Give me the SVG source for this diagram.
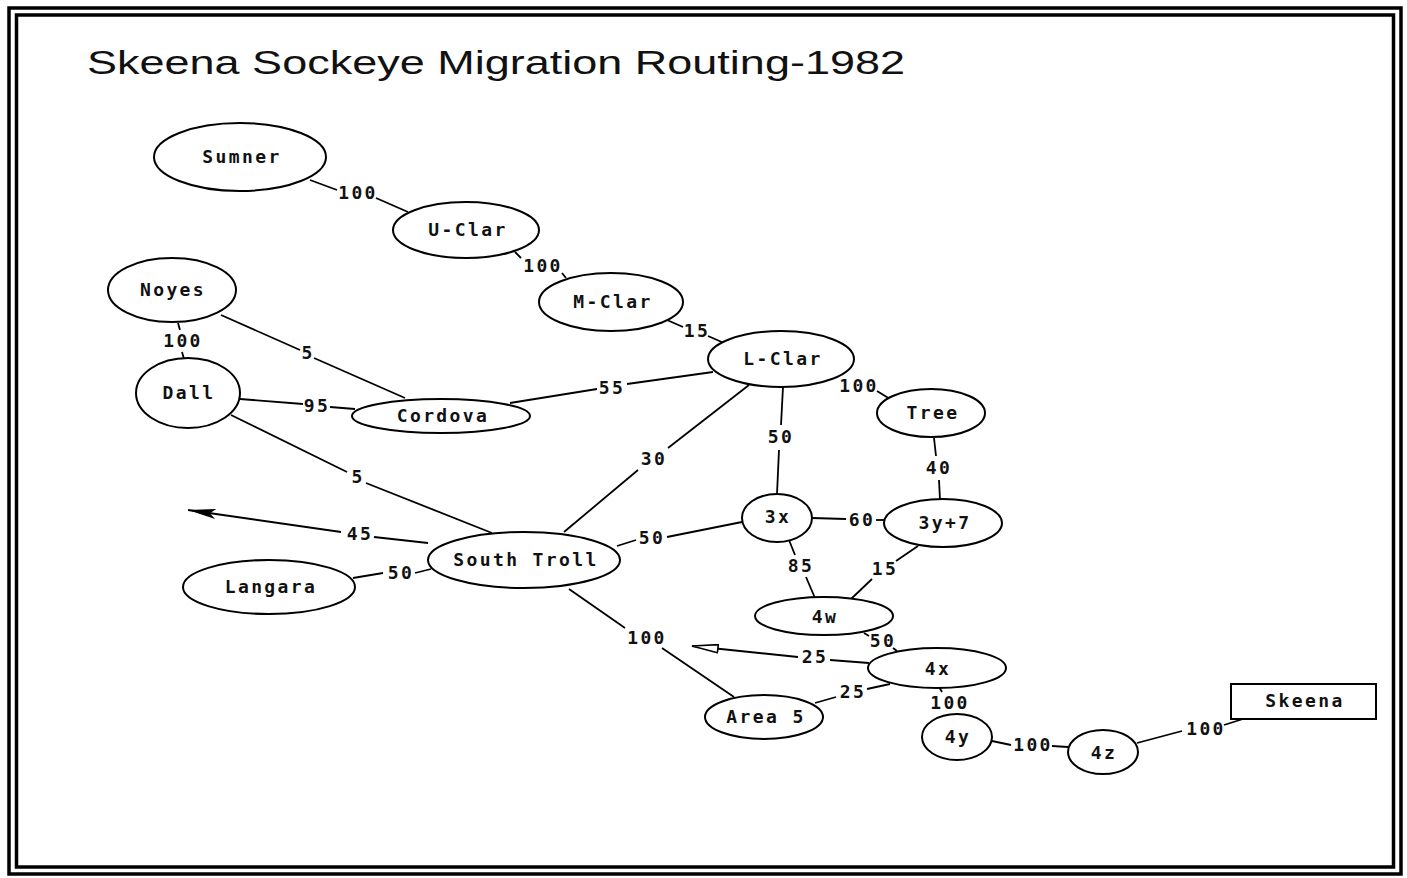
<svg xmlns="http://www.w3.org/2000/svg" width="1407" height="878" viewBox="0 0 1407 878">
<style>
.frame{fill:none;stroke:#000;stroke-width:3.5}
.nd{fill:#fff;stroke:#000;stroke-width:2}
.nl{font-family:"DejaVu Sans Mono","Liberation Mono",monospace;font-weight:bold;font-size:18px;letter-spacing:2.4px;text-anchor:middle;fill:#111}
.el{font-family:"DejaVu Sans Mono","Liberation Mono",monospace;font-weight:bold;font-size:18px;letter-spacing:2.4px;text-anchor:middle;fill:#111}
.cn{fill:none;stroke:#000;stroke-width:1.8}
.title{font-family:"Liberation Sans",Arial,sans-serif;font-size:34px;fill:#111}
</style>
<defs>
<marker id="afill" viewBox="0 0 28 10" refX="28" refY="5" markerWidth="28" markerHeight="10" markerUnits="userSpaceOnUse" orient="auto">
<path d="M28,5 L0,0 L6,5 L0,10 Z" fill="#000"/>
</marker>
<marker id="aopen" viewBox="0 0 28 10" refX="27" refY="5" markerWidth="28" markerHeight="10" markerUnits="userSpaceOnUse" orient="auto">
<path d="M27,5 L1,1 L1,9 Z" fill="#fff" stroke="#000" stroke-width="1.6"/>
</marker>
</defs>
<rect width="1407" height="878" fill="#fff"/>
<rect class="frame" x="9" y="8" width="1392" height="866"/>
<rect class="frame" x="16.5" y="15" width="1377" height="852"/>
<text class="title" x="87" y="74" textLength="818" lengthAdjust="spacingAndGlyphs">Skeena Sockeye Migration Routing-1982</text>

<g id="connectors">
<!-- Sumner - U-Clar -->
<line class="cn" x1="310" y1="180" x2="337" y2="190"/>
<line class="cn" x1="376" y1="198" x2="408" y2="212"/>
<text class="el" x="358" y="199">100</text>
<!-- U-Clar - M-Clar -->
<line class="cn" x1="515" y1="252" x2="521" y2="258"/>
<line class="cn" x1="562" y1="273" x2="566" y2="278"/>
<text class="el" x="543" y="272">100</text>
<!-- M-Clar - L-Clar -->
<line class="cn" x1="667" y1="320" x2="683" y2="327"/>
<line class="cn" x1="708" y1="336" x2="724" y2="343"/>
<text class="el" x="697" y="337">15</text>
<!-- L-Clar - Tree -->
<line class="cn" x1="877" y1="391" x2="890" y2="399"/>
<text class="el" x="859" y="392">100</text>
<!-- L-Clar - Cordova -->
<line class="cn" x1="713" y1="372" x2="627" y2="384"/>
<line class="cn" x1="597" y1="389" x2="510" y2="403"/>
<text class="el" x="612" y="394">55</text>
<!-- Noyes - Cordova -->
<line class="cn" x1="221" y1="315" x2="300" y2="350"/>
<line class="cn" x1="314" y1="358" x2="405" y2="398"/>
<text class="el" x="308" y="359">5</text>
<!-- Noyes - Dall -->
<line class="cn" x1="178" y1="323" x2="180" y2="330"/>
<line class="cn" x1="182" y1="352" x2="184" y2="359"/>
<text class="el" x="183" y="347">100</text>
<!-- Dall - Cordova -->
<line class="cn" x1="240" y1="399" x2="303" y2="404"/>
<line class="cn" x1="330" y1="407" x2="355" y2="409"/>
<text class="el" x="317" y="412">95</text>
<!-- Dall - South Troll -->
<line class="cn" x1="231" y1="415" x2="347" y2="472"/>
<line class="cn" x1="366" y1="483" x2="492" y2="533"/>
<text class="el" x="358" y="483">5</text>
<!-- L-Clar - South Troll -->
<line class="cn" x1="749" y1="385" x2="668" y2="448"/>
<line class="cn" x1="638" y1="470" x2="564" y2="532"/>
<text class="el" x="654" y="465">30</text>
<!-- L-Clar - 3x -->
<line class="cn" x1="783" y1="387" x2="781" y2="425"/>
<line class="cn" x1="779" y1="450" x2="777" y2="494"/>
<text class="el" x="781" y="443">50</text>
<!-- Tree - 3y+7 -->
<line class="cn" x1="934" y1="438" x2="936" y2="456"/>
<line class="cn" x1="939" y1="480" x2="940" y2="500"/>
<text class="el" x="939" y="474">40</text>
<!-- South Troll - 3x -->
<line class="cn" x1="617" y1="546" x2="636" y2="540"/>
<line class="cn" x1="667" y1="537" x2="742" y2="522"/>
<text class="el" x="652" y="544">50</text>
<!-- 3x - 3y+7 -->
<line class="cn" x1="812" y1="518" x2="846" y2="519"/>
<line class="cn" x1="876" y1="520" x2="885" y2="520"/>
<text class="el" x="862" y="526">60</text>
<!-- 3x - 4w -->
<line class="cn" x1="789" y1="540" x2="795" y2="555"/>
<line class="cn" x1="806" y1="577" x2="815" y2="598"/>
<text class="el" x="801" y="572">85</text>
<!-- 3y+7 - 4w -->
<line class="cn" x1="918" y1="546" x2="896" y2="561"/>
<line class="cn" x1="872" y1="579" x2="851" y2="599"/>
<text class="el" x="885" y="575">15</text>
<!-- 4w - 4x -->
<line class="cn" x1="864" y1="633" x2="869" y2="636"/>
<line class="cn" x1="893" y1="648" x2="897" y2="651"/>
<text class="el" x="883" y="647">50</text>
<!-- 4x - outflow 25 -->
<line class="cn" x1="869" y1="663" x2="830" y2="660"/>
<line class="cn" x1="798" y1="657" x2="692" y2="646" marker-end="url(#aopen)"/>
<text class="el" x="815" y="663">25</text>
<!-- 4x - Area 5 -->
<line class="cn" x1="890" y1="684" x2="867" y2="689"/>
<line class="cn" x1="836" y1="697" x2="815" y2="703"/>
<text class="el" x="853" y="698">25</text>
<!-- South Troll - Area 5 -->
<line class="cn" x1="569" y1="589" x2="625" y2="628"/>
<line class="cn" x1="662" y1="648" x2="734" y2="697"/>
<text class="el" x="647" y="644">100</text>
<!-- 4x - 4y -->
<line class="cn" x1="939" y1="687" x2="942" y2="692"/>
<text class="el" x="950" y="709">100</text>
<!-- 4y - 4z -->
<line class="cn" x1="992" y1="741" x2="1011" y2="745"/>
<line class="cn" x1="1052" y1="746" x2="1068" y2="747"/>
<text class="el" x="1033" y="751">100</text>
<!-- 4z - Skeena -->
<line class="cn" x1="1137" y1="743" x2="1182" y2="731"/>
<line class="cn" x1="1224" y1="725" x2="1243" y2="719"/>
<text class="el" x="1206" y="735">100</text>
<!-- South Troll - outflow 45 -->
<line class="cn" x1="428" y1="543" x2="374" y2="537"/>
<line class="cn" x1="341" y1="532" x2="188" y2="510" marker-end="url(#afill)"/>
<text class="el" x="360" y="540">45</text>
<!-- Langara - South Troll -->
<line class="cn" x1="353" y1="578" x2="383" y2="573"/>
<line class="cn" x1="415" y1="573" x2="431" y2="569"/>
<text class="el" x="401" y="579">50</text>
</g>

<g id="node-sumner"><ellipse class="nd" cx="240" cy="157" rx="86" ry="34"/><text class="nl" x="242" y="163">Sumner</text></g>
<g id="node-uclar"><ellipse class="nd" cx="466" cy="230" rx="73" ry="28"/><text class="nl" x="468" y="236">U-Clar</text></g>
<g id="node-noyes"><ellipse class="nd" cx="172" cy="290" rx="64" ry="32"/><text class="nl" x="173" y="296">Noyes</text></g>
<g id="node-dall"><ellipse class="nd" cx="188" cy="393" rx="52" ry="35"/><text class="nl" x="189" y="399">Dall</text></g>
<g id="node-cordova"><ellipse class="nd" cx="441" cy="416" rx="89" ry="17"/><text class="nl" x="443" y="422">Cordova</text></g>
<g id="node-mclar"><ellipse class="nd" cx="611" cy="302" rx="72" ry="29"/><text class="nl" x="613" y="308">M-Clar</text></g>
<g id="node-lclar"><ellipse class="nd" cx="781" cy="359" rx="73" ry="28"/><text class="nl" x="783" y="365">L-Clar</text></g>
<g id="node-tree"><ellipse class="nd" cx="931" cy="413" rx="54" ry="24"/><text class="nl" x="933" y="419">Tree</text></g>
<g id="node-3x"><ellipse class="nd" cx="777" cy="518" rx="35" ry="24"/><text class="nl" x="778" y="523">3x</text></g>
<g id="node-3y7"><ellipse class="nd" cx="943" cy="523" rx="59" ry="24"/><text class="nl" x="945" y="529">3y+7</text></g>
<g id="node-southtroll"><ellipse class="nd" cx="524" cy="560" rx="96" ry="28"/><text class="nl" x="526" y="566">South Troll</text></g>
<g id="node-langara"><ellipse class="nd" cx="269" cy="587" rx="86" ry="27"/><text class="nl" x="271" y="593">Langara</text></g>
<g id="node-4w"><ellipse class="nd" cx="824" cy="616" rx="69" ry="19"/><text class="nl" x="825" y="623">4w</text></g>
<g id="node-4x"><ellipse class="nd" cx="937" cy="668" rx="69" ry="20"/><text class="nl" x="938" y="675">4x</text></g>
<g id="node-area5"><ellipse class="nd" cx="764" cy="717" rx="59" ry="22"/><text class="nl" x="766" y="723">Area 5</text></g>
<g id="node-4y"><ellipse class="nd" cx="957" cy="737" rx="35" ry="23"/><text class="nl" x="958" y="743">4y</text></g>
<g id="node-4z"><ellipse class="nd" cx="1103" cy="752" rx="35" ry="22"/><text class="nl" x="1104" y="759">4z</text></g>
<g id="node-skeena"><rect class="nd" x="1231" y="684" width="145" height="35"/><text class="nl" x="1305" y="707">Skeena</text></g>
</svg>
